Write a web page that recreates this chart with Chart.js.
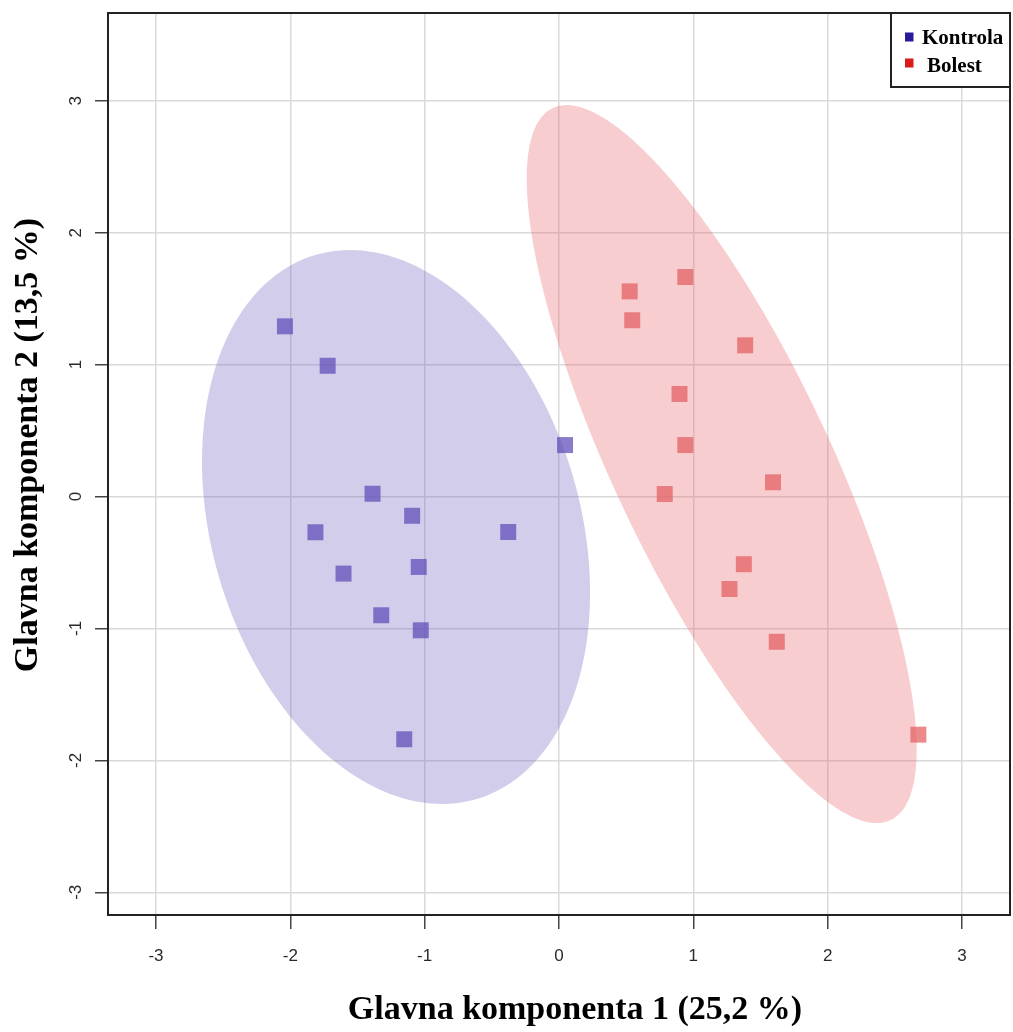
<!DOCTYPE html>
<html>
<head>
<meta charset="utf-8">
<script src="https://cdn.jsdelivr.net/npm/chart.js@4"></script>
<style>
  body { margin: 0; background: #fff; overflow: hidden; }
  #wrap { width: 1013px; height: 1032px; }
  canvas { display: block; }
</style>
</head>
<body>
<div id="wrap"><canvas id="pcaChart" width="1013" height="1032"></canvas></div>
<script>
// scores (PC1, PC2)
const kontrolaX = [-2.040, -1.722, 0.045, -1.388, -1.093, -1.813, -0.378, -1.604, -1.044, -1.323, -1.029, -1.152];
const kontrolaY = [1.290, 0.991, 0.390, 0.021, -0.146, -0.271, -0.269, -0.584, -0.534, -0.900, -1.014, -1.840];
const bolestX = [0.526, 0.940, 0.545, 1.386, 0.897, 0.940, 0.787, 1.593, 1.376, 1.269, 1.621, 2.675];
const bolestY = [1.555, 1.664, 1.336, 1.146, 0.777, 0.390, 0.019, 0.108, -0.513, -0.701, -1.101, -1.805];

// confidence ellipses: centre and shape matrix [sxx, sxy, syy]
const kontrolaEllipseCenter = [-1.213, -0.231];
const kontrolaEllipseShape = [2.086, -0.719, 4.408];
const bolestEllipseCenter = [1.211, 0.246];
const bolestEllipseShape = [2.107, -3.140, 7.405];

const groupLabels = ['Kontrola', 'Bolest'];
const xTickValues = [-3, -2, -1, 0, 1, 2, 3];
const yTickValues = [-3, -2, -1, 0, 1, 2, 3];
const xTitle = 'Glavna komponenta 1 (25,2 %)';
const yTitle = 'Glavna komponenta 2 (13,5 %)';

const toPoints = (xs, ys) => xs.map((x, i) => ({ x: x, y: ys[i] }));

const ellipses = [
    { center: kontrolaEllipseCenter, shape: kontrolaEllipseShape, color: 'rgba(104, 88, 190, 0.3)' },
    { center: bolestEllipseCenter, shape: bolestEllipseShape, color: 'rgba(228, 90, 95, 0.3)' }
];

const ellipsePlugin = {
    id: 'ellipses',
    beforeDatasetsDraw(chart) {
        const { ctx, chartArea, scales } = chart;
        ctx.save();
        ctx.beginPath();
        ctx.rect(chartArea.left, chartArea.top, chartArea.right - chartArea.left, chartArea.bottom - chartArea.top);
        ctx.clip();
        ellipses.forEach(e => {
            const [sxx, sxy, syy] = e.shape;
            const l11 = Math.sqrt(sxx);
            const l21 = sxy / l11;
            const l22 = Math.sqrt(syy - l21 * l21);
            ctx.beginPath();
            for (let i = 0; i <= 180; i++) {
                const t = i / 180 * Math.PI * 2;
                const vx = e.center[0] + l11 * Math.cos(t);
                const vy = e.center[1] + l21 * Math.cos(t) + l22 * Math.sin(t);
                const px = scales.x.getPixelForValue(vx);
                const py = scales.y.getPixelForValue(vy);
                if (i === 0) ctx.moveTo(px, py); else ctx.lineTo(px, py);
            }
            ctx.closePath();
            ctx.fillStyle = e.color;
            ctx.fill();
        });
        ctx.restore();
    }
};

const legendColors = ['#2b1b9b', '#dd1a1a'];

const framePlugin = {
    id: 'frame',
    afterDraw(chart) {
        const { ctx, chartArea } = chart;
        ctx.save();
        // plot box
        ctx.strokeStyle = '#222';
        ctx.lineWidth = 2;
        ctx.strokeRect(chartArea.left, chartArea.top, chartArea.right - chartArea.left, chartArea.bottom - chartArea.top);

        // axis titles
        ctx.fillStyle = '#000';
        ctx.font = 'bold 34px "Liberation Serif", "Times New Roman", serif';
        ctx.textAlign = 'center';
        ctx.textBaseline = 'alphabetic';
        ctx.fillText(xTitle, 575, 1019);
        ctx.save();
        ctx.translate(37, 445);
        ctx.rotate(-Math.PI / 2);
        ctx.fillText(yTitle, 0, 0);
        ctx.restore();

        // legend box in the top right corner
        const boxLeft = 891, boxTop = chartArea.top, boxRight = chartArea.right, boxBottom = 87;
        ctx.fillStyle = '#fff';
        ctx.fillRect(boxLeft, boxTop, boxRight - boxLeft, boxBottom - boxTop);
        ctx.strokeStyle = '#222';
        ctx.lineWidth = 2;
        ctx.strokeRect(boxLeft, boxTop, boxRight - boxLeft, boxBottom - boxTop);
        ctx.font = 'bold 21px "Liberation Serif", "Times New Roman", serif';
        ctx.textAlign = 'left';
        const rows = [{ y: 37, textX: 922, base: 44 }, { y: 63, textX: 927, base: 71.5 }];
        chart.data.datasets.forEach((ds, i) => {
            const r = rows[i];
            ctx.fillStyle = legendColors[i];
            ctx.fillRect(905, r.y - 4.5, 8.5, 9);
            ctx.fillStyle = '#000';
            ctx.fillText(ds.label, r.textX, r.base);
        });
        ctx.restore();
    }
};

const noPadding = s => {
    s.paddingLeft = 0;
    s.paddingRight = 0;
    s.paddingTop = 0;
    s.paddingBottom = 0;
};

const ctx = document.getElementById('pcaChart').getContext('2d');

new Chart(ctx, {
    type: 'scatter',
    data: {
        datasets: [{
            label: groupLabels[0],
            data: toPoints(kontrolaX, kontrolaY),
            pointStyle: 'rect',
            pointRadius: 11.3,
            pointHoverRadius: 11.3,
            borderWidth: 0,
            backgroundColor: 'rgba(99, 79, 186, 0.75)'
        }, {
            label: groupLabels[1],
            data: toPoints(bolestX, bolestY),
            pointStyle: 'rect',
            pointRadius: 11.3,
            pointHoverRadius: 11.3,
            borderWidth: 0,
            backgroundColor: 'rgba(228, 97, 100, 0.75)'
        }]
    },
    options: {
        responsive: false,
        animation: false,
        layout: {
            autoPadding: false,
            padding: { top: 13, right: 3, left: 0, bottom: 0 }
        },
        plugins: {
            legend: { display: false },
            tooltip: { enabled: false }
        },
        scales: {
            x: {
                type: 'linear',
                min: -3.357,
                max: 3.357,
                afterFit: s => { s.height = 117; noPadding(s); },
                afterBuildTicks: s => { s.ticks = xTickValues.map(v => ({ value: v })); },
                grid: {
                    color: '#dadada',
                    lineWidth: 1.5,
                    tickColor: '#444',
                    tickLength: 14,
                    tickWidth: 1.5
                },
                border: { display: false },
                ticks: {
                    color: '#2a2a2a',
                    padding: 17,
                    font: { family: '"Liberation Sans", Arial, sans-serif', size: 17 }
                }
            },
            y: {
                type: 'linear',
                min: -3.172,
                max: 3.665,
                afterFit: s => { s.width = 108; noPadding(s); },
                afterBuildTicks: s => { s.ticks = yTickValues.map(v => ({ value: v })); },
                grid: {
                    color: '#dadada',
                    lineWidth: 1.5,
                    tickColor: '#444',
                    tickLength: 13,
                    tickWidth: 1.5
                },
                border: { display: false },
                ticks: {
                    color: '#2a2a2a',
                    padding: 11,
                    minRotation: 90,
                    maxRotation: 90,
                    crossAlign: 'center',
                    font: { family: '"Liberation Sans", Arial, sans-serif', size: 17 }
                }
            }
        }
    },
    plugins: [ellipsePlugin, framePlugin]
});
</script>
</body>
</html>
